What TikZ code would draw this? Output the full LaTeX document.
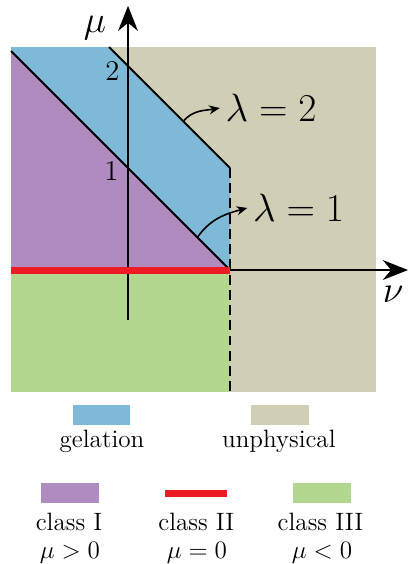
\RequirePackage{fix-cm}
\documentclass[tikz,border=0pt]{standalone}
\usepackage{amsmath, amssymb}
\usepackage{tikz}
\usetikzlibrary{arrows.meta}

\definecolor{gelblue}{RGB}{126,185,215}
\definecolor{unphys}{RGB}{208,206,181}
\definecolor{clsone}{RGB}{175,139,191}
\definecolor{clstwo}{RGB}{237,28,36}
\definecolor{clsthree}{RGB}{178,216,143}

\tikzset{
  axis/.style={line width=1.6pt, -{Stealth[length=14pt,width=11pt]}},
  bound/.style={line width=1.1pt},
  pointer/.style={line width=0.9pt, -{Stealth[length=6pt,width=5pt]}},
  keybox/.style={minimum width=1.12cm, minimum height=0.39cm, inner sep=0pt},
  keytext/.style={font=\fontsize{14}{17}\selectfont, anchor=base, inner sep=0pt},
  biglab/.style={font=\fontsize{22}{26}\selectfont, inner sep=3pt},
  axlab/.style={font=\fontsize{21}{25}\selectfont, anchor=base, inner sep=0pt},
}

\begin{document}
\begin{tikzpicture}[x=2cm,y=2cm]
\useasboundingbox (-1.255,-2.882) rectangle (2.755,2.647);

% Regions
\fill[unphys] (-1.147,-1.196) rectangle (2.431,2.186);
\fill[gelblue] (-1.147,0) -- (1,0) -- (1,1) -- (-0.186,2.186) -- (-1.147,2.186) -- cycle;
\fill[clsone] (-1.147,0) -- (1,0) -- (-1.147,2.147) -- cycle;
\fill[clsthree] (-1.147,-1.196) rectangle (1,0);

% Boundaries
\draw[bound] (-1.147,2.147) -- (1,0);
\draw[bound] (-0.186,2.186) -- (1,1);
\draw[bound, dash pattern=on 5.5pt off 3pt] (1,1) -- (1,-1.196);

% Axes
\draw[axis] (0,-0.49) -- (0,2.59);
\draw[axis] (1,0) -- (2.745,0);
\draw[clstwo, line width=3.9pt] (-1.147,0) -- (1,0);

\node[axlab] (mulab) at (-0.324,2.33) {$\mu$};
\node[axlab] (nulab) at (2.6,-0.314) {$\nu$};
\node[font=\fontsize{16}{19}\selectfont, anchor=base] (tickone) at (-0.162,0.882) {$1$};
\node[font=\fontsize{16}{19}\selectfont, anchor=base] (ticktwo) at (-0.152,1.853) {$2$};

% Labels
\node[biglab, anchor=base west] (lamtwo) at (0.90,1.454) {$\lambda = 2$};
\node[biglab, anchor=base west] (lamone) at (1.17,0.474) {$\lambda = 1$};
\coordinate (ontwo) at (0.542,1.458);
\coordinate (onone) at (0.68,0.32);
\draw[pointer] (ontwo) to[out=50,in=190] (lamtwo.west);
\draw[pointer] (onone) to[out=55,in=195] (lamone.west);

% Legend
\node[keybox, fill=gelblue] (gelbox) at (-0.260,-1.422) {};
\node[keybox, fill=unphys] (unphysbox) at (1.490,-1.422) {};
\node[keytext] (gellab) at (-0.255,-1.742) {gelation};
\node[keytext] (unphyslab) at (1.479,-1.742) {unphysical};

\node[keybox, fill=clsone] (onebox) at (-0.569,-2.186) {};
\node[keybox, fill=clstwo, minimum width=1.216cm, minimum height=3.9pt] (twobar) at (0.667,-2.186) {};
\node[keybox, fill=clsthree] (threebox) at (1.902,-2.186) {};
\node[keytext] (onelab) at (-0.578,-2.549) {class I};
\node[keytext] (twolab) at (0.670,-2.549) {class II};
\node[keytext] (threelab) at (1.887,-2.549) {class III};
\node[keytext] (onecond) at (-0.570,-2.824) {$\mu > 0$};
\node[keytext] (twocond) at (0.676,-2.824) {$\mu = 0$};
\node[keytext] (threecond) at (1.902,-2.824) {$\mu < 0$};
\end{tikzpicture}
\end{document}
